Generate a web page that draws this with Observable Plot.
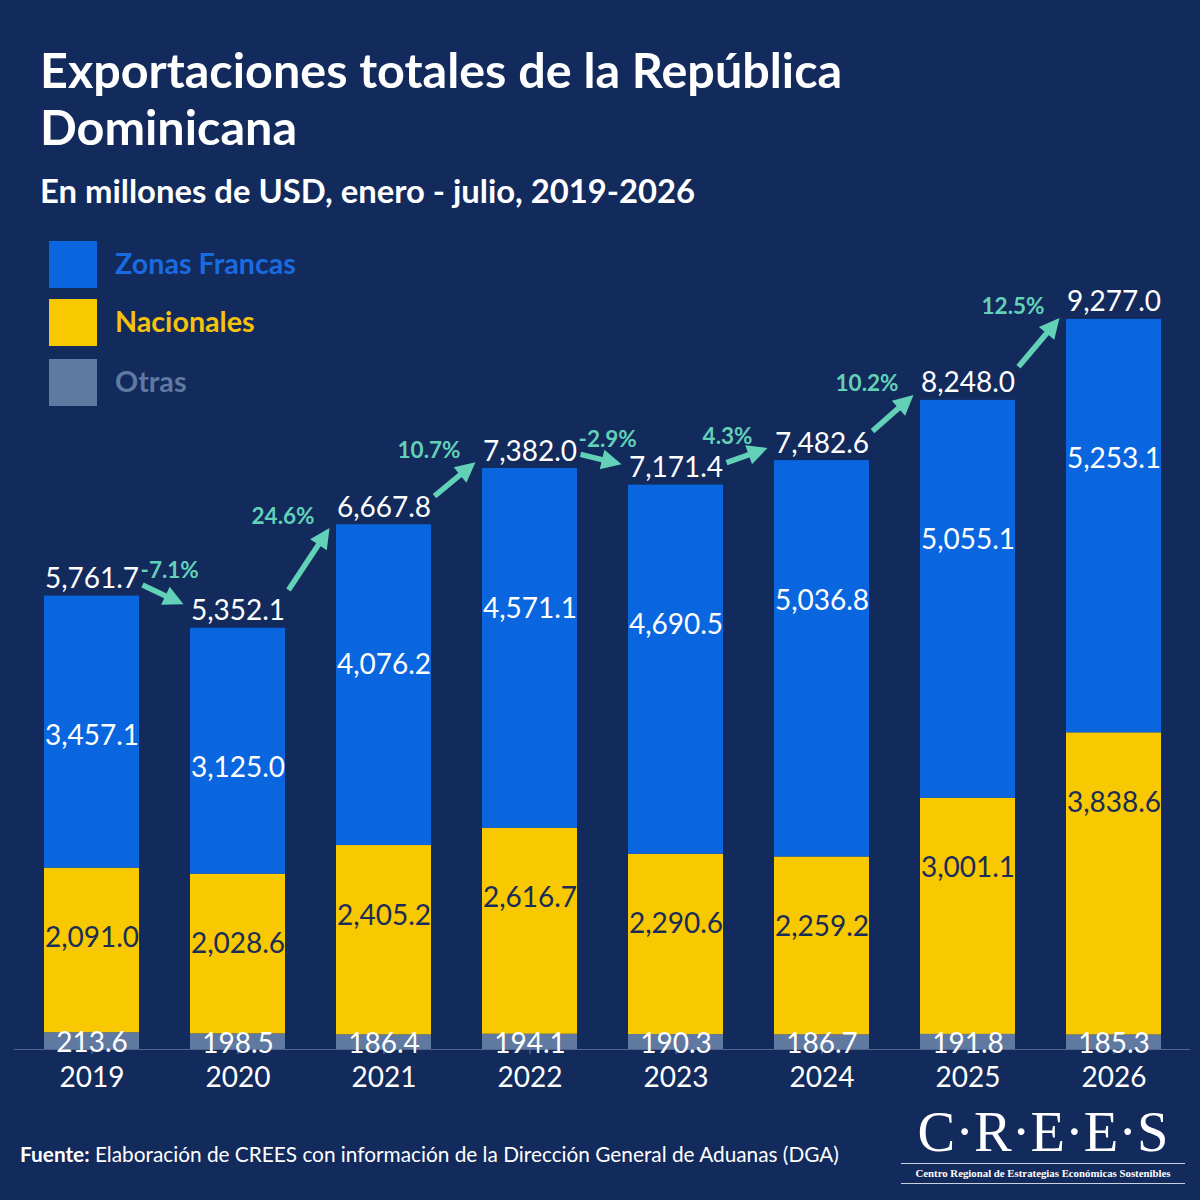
<!DOCTYPE html>
<html>
<head>
<meta charset="utf-8">
<script src="https://cdn.jsdelivr.net/npm/d3@7"></script>
<script src="https://cdn.jsdelivr.net/npm/@observablehq/plot@0.6"></script>
<style>
  html, body { margin: 0; padding: 0; background: #122a5c; }
  #page { position: relative; width: 1200px; height: 1200px; background: #122a5c; font-family: Lato, "Open Sans", sans-serif; color: #fff; overflow: hidden; }
  #title { position: absolute; left: 40px; top: 41px; margin: 0; font-size: 48.5px; line-height: 57px; font-weight: 700; }
  #subtitle { position: absolute; left: 40px; top: 171px; margin: 0; font-size: 32.8px; line-height: 40px; font-weight: 700; }
  #chart { position: absolute; left: 0; top: 220px; }
  .leg { position: absolute; left: 49px; width: 48px; height: 47px; }
  .legt { position: absolute; left: 115px; font-size: 28.7px; font-weight: 700; line-height: 30px; }
  #source { position: absolute; left: 20px; top: 1141px; font-size: 20.8px; line-height: 26px; }
  #logo { position: absolute; left: 901px; top: 1101px; width: 284px; text-align: center; font-family: "Liberation Serif", "DejaVu Serif", serif; }
  #logo .big { font-size: 56.5px; line-height: 62px; height: 62px; }
  #logo .small { border-top: 1.5px solid #c9d0de; border-bottom: 1.5px solid #c9d0de; font-size: 10.8px; font-weight: 700; line-height: 19px; white-space: nowrap; }
</style>
</head>
<body>
<div id="page">
  <div id="title">Exportaciones totales de la República<br>Dominicana</div>
  <div id="subtitle">En millones de USD, enero - julio, 2019-2026</div>
  <div id="chart"></div>
  <div id="legend"></div>
  <div id="source"><b>Fuente:</b> Elaboración de CREES con información de la Dirección General de Aduanas (DGA)</div>
  <div id="logo"><div class="big">C·R·E·E·S</div><div class="small">Centro Regional de Estrategias Económicas Sostenibles</div></div>
</div>
<script>
// ---- data ----
const years = ["2019", "2020", "2021", "2022", "2023", "2024", "2025", "2026"];
const zonasFrancas = [3457.1, 3125.0, 4076.2, 4571.1, 4690.5, 5036.8, 5055.1, 5253.1];
const nacionales   = [2091.0, 2028.6, 2405.2, 2616.7, 2290.6, 2259.2, 3001.1, 3838.6];
const otras        = [213.6, 198.5, 186.4, 194.1, 190.3, 186.7, 191.8, 185.3];
const totals       = [5761.7, 5352.1, 6667.8, 7382.0, 7171.4, 7482.6, 8248.0, 9277.0];
const changes      = ["-7.1%", "24.6%", "10.7%", "-2.9%", "4.3%", "10.2%", "12.5%"];
const categories   = ["Otras", "Nacionales", "Zonas Francas"];
const colors       = ["#6079a1", "#f8c800", "#0a66df"];
const legendText   = ["#6079a1", "#f5c30c", "#1a6be0"];

// ---- derived table ----
const series = {"Otras": otras, "Nacionales": nacionales, "Zonas Francas": zonasFrancas};
const rows = [];
years.forEach((yr, i) => {
  let base = 0;
  for (const cat of categories) {
    const v = series[cat][i];
    rows.push({year: yr, category: cat, value: v, y1: base, y2: base + v, mid: base + v / 2});
    base += v;
  }
});
const totalRows = years.map((yr, i) => ({year: yr, total: totals[i]}));
const fmt = d3.format(",.1f");
const teal = "#62d1b8";

// ---- legend ----
const legend = document.getElementById("legend");
const legendOrder = ["Zonas Francas", "Nacionales", "Otras"];
const legendTops = [241, 299, 359];
legendOrder.forEach((cat, k) => {
  const ci = categories.indexOf(cat);
  const sq = document.createElement("div");
  sq.className = "leg"; sq.style.top = legendTops[k] + "px"; sq.style.background = colors[ci];
  const t = document.createElement("div");
  t.className = "legt"; t.style.top = (legendTops[k] + 7) + "px"; t.style.color = legendText[ci];
  t.textContent = cat;
  legend.appendChild(sq); legend.appendChild(t);
});

// ---- arrows + change labels (drawn through the plot's scales) ----
function arrowsMark(index, scales) {
  const x = scales.x, y = scales.y;
  const bw = x.bandwidth ? x.bandwidth() : 0;
  const g = d3.create("svg:g");
  for (let i = 0; i < years.length - 1; i++) {
    const cx0 = x(years[i]) + bw / 2, cy0 = y(totals[i]) - 17;
    const cx1 = x(years[i + 1]) + bw / 2, cy1 = y(totals[i + 1]) - 17;
    const dy = cy1 - cy0;
    const tx = cx0 + 51, ty = cy0 + 0.2 * dy;
    const hx = cx1 - 54, hy = cy1 - 0.2 * dy;
    const a = Math.atan2(hy - ty, hx - tx);
    const L = 20, W = 10;
    const bx = hx - L * Math.cos(a), by = hy - L * Math.sin(a);
    g.append("line")
      .attr("x1", tx).attr("y1", ty).attr("x2", bx + 2 * Math.cos(a)).attr("y2", by + 2 * Math.sin(a))
      .attr("stroke", teal).attr("stroke-width", 5.5);
    g.append("path")
      .attr("d", `M${hx},${hy}L${bx + W * Math.sin(a)},${by - W * Math.cos(a)}L${bx - W * Math.sin(a)},${by + W * Math.cos(a)}Z`)
      .attr("fill", teal);
    const up = totals[i + 1] >= totals[i];
    g.append("text")
      .attr("x", up ? hx - 15 : tx - 2)
      .attr("y", up ? hy - 12 : ty - 15)
      .attr("text-anchor", up ? "end" : "start")
      .attr("dy", "0.36em")
      .attr("fill", teal)
      .attr("font-size", 22.5)
      .attr("font-weight", 700)
      .text(changes[i]);
  }
  return g.node();
}

const plot = Plot.plot({
  width: 1200,
  height: 880,
  marginLeft: 42,
  marginRight: 37,
  marginTop: 42,
  marginBottom: 51,
  style: {background: "transparent", fontFamily: "Lato, sans-serif", overflow: "visible", color: "white"},
  x: {type: "band", domain: years, paddingInner: 0.35, paddingOuter: 0, axis: null},
  y: {domain: [0, 10000], axis: null},
  color: {domain: categories, range: colors},
  marks: [
    Plot.barY(rows, {x: "year", y1: "y1", y2: "y2", fill: "category"}),
    Plot.ruleY([0], {stroke: "#50668f", strokeWidth: 1.2, insetLeft: -28, insetRight: -27}),
    Plot.axisX({tickSize: 5, tickPadding: 13, fontSize: 28, color: "white", stroke: "#6b7fa6", label: null}),
    Plot.text(rows.filter(d => d.category === "Zonas Francas"), {x: "year", y: "y2", dy: 140, text: d => fmt(d.value), fill: "white", fontSize: 28}),
    Plot.text(rows.filter(d => d.category === "Nacionales"), {x: "year", y: "y2", dy: 70, text: d => fmt(d.value), fill: "#1a2c58", fontSize: 28}),
    Plot.text(rows.filter(d => d.category === "Otras"), {x: "year", y: "mid", dy: 2, text: d => fmt(d.value), fill: "white", fontSize: 28}),
    Plot.text(totalRows, {x: "year", y: "total", dy: -17, text: d => fmt(d.total), fill: "white", fontSize: 28}),
    arrowsMark
  ]
});
document.getElementById("chart").appendChild(plot);
</script>
</body>
</html>
